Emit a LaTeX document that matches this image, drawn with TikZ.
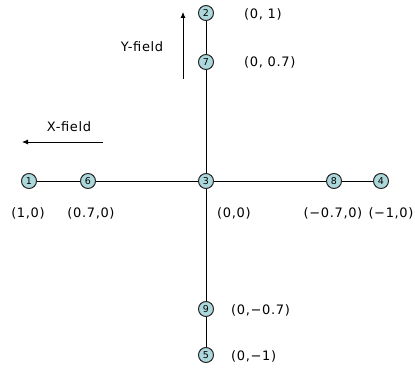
\documentclass[tikz,border=0pt]{standalone}
\usepackage{fontspec}
\usetikzlibrary{arrows.meta}
\setmainfont{DejaVu Sans}[LetterSpace=5]
\definecolor{ballfill}{RGB}{172,216,220}
\begin{document}
\begin{tikzpicture}[x=1pt,y=-1pt,
  pt/.style={circle,draw=black!85,line width=1pt,fill=ballfill,inner sep=0pt,minimum size=15pt,font=\fontsize{9.5}{10}\selectfont},
  lab/.style={font=\fontsize{13}{15}\selectfont,inner sep=0pt},
  link/.style={line width=0.8pt},
  fld/.style={-{Latex[length=6pt,width=5pt]},line width=0.8pt}]
\useasboundingbox (0,0) rectangle (415,369);
% nodes
\node[pt] (n1) at (29,181) {1};
\node[pt] (n6) at (88,181) {6};
\node[pt] (n3) at (206,181) {3};
\node[pt] (n8) at (334,181) {8};
\node[pt] (n4) at (381,181) {4};
\node[pt] (n2) at (206,13) {2};
\node[pt] (n7) at (206,62) {7};
\node[pt] (n9) at (206,309) {9};
\node[pt] (n5) at (206,355) {5};
% connectors
\draw[link] (n1) -- (n6);
\draw[link] (n6) -- (n3);
\draw[link] (n3) -- (n8);
\draw[link] (n8) -- (n4);
\draw[link] (n2) -- (n7);
\draw[link] (n7) -- (n3);
\draw[link] (n3) -- (n9);
\draw[link] (n9) -- (n5);
% labels
\node[lab] (l1) at (28,213) {(1,0)};
\node[lab] (l6) at (91,213) {(0.7,0)};
\node[lab,anchor=west] (l3) at (217,213) {(0,0)};
\node[lab] (l8) at (333,213) {(−0.7,0)};
\node[lab] (l4) at (391,213) {(−1,0)};
\node[lab,anchor=west] (l2) at (244,14) {(0, 1)};
\node[lab,anchor=west] (l7) at (244,62) {(0, 0.7)};
\node[lab,anchor=west] (l9) at (231,310) {(0,−0.7)};
\node[lab,anchor=west] (l5) at (231,356) {(0,−1)};
% fields
\node[lab] (yf) at (142,47) {Y-field};
\coordinate (ya) at (183,79);
\coordinate (yb) at (183,12);
\draw[fld] (ya) -- (yb);
\node[lab] (xf) at (69,127) {X-field};
\coordinate (xa) at (103,142);
\coordinate (xb) at (22,142);
\draw[fld] (xa) -- (xb);
\end{tikzpicture}
\end{document}
